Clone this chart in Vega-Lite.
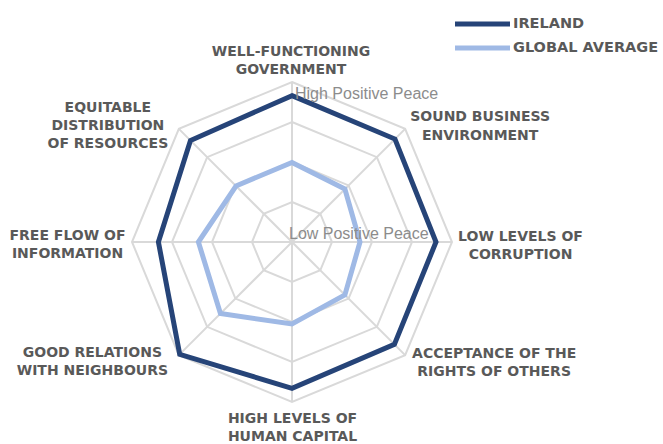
{
  "$schema": "https://vega.github.io/schema/vega-lite/v6.json",
  "width": 663,
  "height": 444,
  "autosize": {"type": "none"},
  "padding": 0,
  "background": "white",
  "config": {"view": {"stroke": null}, "text": {"lineBreak": "\n"}},
  "datasets": {
    "axes": [
      {"axis": "Well-Functioning Government", "i": 0, "label": "WELL-FUNCTIONING\nGOVERNMENT"},
      {"axis": "Sound Business Environment", "i": 1, "label": "SOUND BUSINESS\nENVIRONMENT"},
      {"axis": "Low Levels of Corruption", "i": 2, "label": "LOW LEVELS OF\nCORRUPTION"},
      {"axis": "Acceptance of the Rights of Others", "i": 3, "label": "ACCEPTANCE OF THE\nRIGHTS OF OTHERS"},
      {"axis": "High Levels of Human Capital", "i": 4, "label": "HIGH LEVELS OF\nHUMAN CAPITAL"},
      {"axis": "Good Relations with Neighbours", "i": 5, "label": "GOOD RELATIONS\nWITH NEIGHBOURS"},
      {"axis": "Free Flow of Information", "i": 6, "label": "FREE FLOW OF\nINFORMATION"},
      {"axis": "Equitable Distribution of Resources", "i": 7, "label": "EQUITABLE\nDISTRIBUTION\nOF RESOURCES"}
    ],
    "rings": [
      {"ring": 1, "i": 0}, {"ring": 1, "i": 1}, {"ring": 1, "i": 2}, {"ring": 1, "i": 3}, {"ring": 1, "i": 4}, {"ring": 1, "i": 5}, {"ring": 1, "i": 6}, {"ring": 1, "i": 7},
      {"ring": 2, "i": 0}, {"ring": 2, "i": 1}, {"ring": 2, "i": 2}, {"ring": 2, "i": 3}, {"ring": 2, "i": 4}, {"ring": 2, "i": 5}, {"ring": 2, "i": 6}, {"ring": 2, "i": 7},
      {"ring": 3, "i": 0}, {"ring": 3, "i": 1}, {"ring": 3, "i": 2}, {"ring": 3, "i": 3}, {"ring": 3, "i": 4}, {"ring": 3, "i": 5}, {"ring": 3, "i": 6}, {"ring": 3, "i": 7},
      {"ring": 4, "i": 0}, {"ring": 4, "i": 1}, {"ring": 4, "i": 2}, {"ring": 4, "i": 3}, {"ring": 4, "i": 4}, {"ring": 4, "i": 5}, {"ring": 4, "i": 6}, {"ring": 4, "i": 7}
    ],
    "scores": [
      {"axis": "Well-Functioning Government", "series": "Ireland", "score": 1.34},
      {"axis": "Sound Business Environment", "series": "Ireland", "score": 1.36},
      {"axis": "Low Levels of Corruption", "series": "Ireland", "score": 1.40},
      {"axis": "Acceptance of the Rights of Others", "series": "Ireland", "score": 1.38},
      {"axis": "High Levels of Human Capital", "series": "Ireland", "score": 1.34},
      {"axis": "Good Relations with Neighbours", "series": "Ireland", "score": 1.03},
      {"axis": "Free Flow of Information", "series": "Ireland", "score": 1.66},
      {"axis": "Equitable Distribution of Resources", "series": "Ireland", "score": 1.41},
      {"axis": "Well-Functioning Government", "series": "Global average", "score": 3.01},
      {"axis": "Sound Business Environment", "series": "Global average", "score": 3.13},
      {"axis": "Low Levels of Corruption", "series": "Global average", "score": 3.30},
      {"axis": "Acceptance of the Rights of Others", "series": "Global average", "score": 3.13},
      {"axis": "High Levels of Human Capital", "series": "Global average", "score": 2.95},
      {"axis": "Good Relations with Neighbours", "series": "Global average", "score": 2.47},
      {"axis": "Free Flow of Information", "series": "Global average", "score": 2.66},
      {"axis": "Equitable Distribution of Resources", "series": "Global average", "score": 3.02}
    ],
    "ends": [
      {"label": "High Positive Peace", "score": 1},
      {"label": "Low Positive Peace", "score": 5}
    ]
  },
  "encoding": {
    "x": {"field": "x", "type": "quantitative", "scale": {"domain": [-7.3, 9.275], "nice": false, "zero": false}, "axis": null},
    "y": {"field": "y", "type": "quantitative", "scale": {"domain": [-5.05, 6.05], "nice": false, "zero": false}, "axis": null}
  },
  "layer": [
    {
      "data": {"name": "rings"},
      "transform": [
        {"calculate": "datum.ring * sin(datum.i * PI / 4)", "as": "x"},
        {"calculate": "datum.ring * cos(datum.i * PI / 4)", "as": "y"}
      ],
      "mark": {"type": "line", "interpolate": "linear-closed", "color": "#D9D9D9", "strokeWidth": 2},
      "encoding": {"detail": {"field": "ring", "type": "nominal"}, "order": {"field": "i", "type": "quantitative"}}
    },
    {
      "data": {"name": "axes"},
      "transform": [
        {"calculate": "4 * sin(datum.i * PI / 4)", "as": "x"},
        {"calculate": "4 * cos(datum.i * PI / 4)", "as": "y"}
      ],
      "mark": {"type": "rule", "color": "#D9D9D9", "strokeWidth": 2},
      "encoding": {"x2": {"datum": 0}, "y2": {"datum": 0}}
    },
    {
      "data": {"name": "scores"},
      "transform": [
        {"lookup": "axis", "from": {"data": {"name": "axes"}, "key": "axis", "fields": ["i"]}},
        {"calculate": "(5 - datum.score) * sin(datum.i * PI / 4)", "as": "x"},
        {"calculate": "(5 - datum.score) * cos(datum.i * PI / 4)", "as": "y"}
      ],
      "mark": {"type": "line", "interpolate": "linear-closed", "strokeWidth": 5, "strokeJoin": "miter", "strokeCap": "round"},
      "encoding": {
        "color": {
          "field": "series", "type": "nominal",
          "scale": {"domain": ["Ireland", "Global average"], "range": ["#264478", "#9FB9E5"]},
          "legend": {
            "title": null, "orient": "none", "legendX": 474.5, "legendY": 16, "padding": 0,
            "symbolType": "M-5,0H5", "symbolSize": 121, "symbolStrokeWidth": 5,
            "labelFont": "DejaVu Sans", "labelFontSize": 14.5, "labelFontWeight": "bold", "labelColor": "#595959",
            "labelOffset": 22.5, "rowPadding": 4, "labelExpr": "upper(datum.label)"
          }
        },
        "detail": {"field": "series", "type": "nominal"},
        "order": {"field": "i", "type": "quantitative"}
      }
    },
    {
      "data": {"name": "ends"},
      "transform": [
        {"filter": "datum.score == 1"},
        {"calculate": "0", "as": "x"},
        {"calculate": "5 - datum.score", "as": "y"}
      ],
      "mark": {"type": "text", "align": "left", "baseline": "middle", "dx": 3, "dy": 12, "font": "Liberation Sans", "fontSize": 16, "color": "#8C8C8C"},
      "encoding": {"text": {"field": "label"}}
    },
    {
      "data": {"name": "ends"},
      "transform": [
        {"filter": "datum.score == 5"},
        {"calculate": "0", "as": "x"},
        {"calculate": "5 - datum.score", "as": "y"}
      ],
      "mark": {"type": "text", "align": "left", "baseline": "middle", "dx": -3, "dy": -8, "font": "Liberation Sans", "fontSize": 16, "color": "#8C8C8C"},
      "encoding": {"text": {"field": "label"}}
    },
    {
      "data": {"name": "axes"},
      "transform": [{"filter": "datum.i == 0"}, {"calculate": "4 * sin(datum.i * PI / 4)", "as": "x"}, {"calculate": "4 * cos(datum.i * PI / 4)", "as": "y"}],
      "mark": {"type": "text", "align": "center", "baseline": "middle", "dx": -1, "dy": -30.5, "lineHeight": 18.3, "font": "DejaVu Sans", "fontSize": 14, "fontWeight": "bold", "color": "#595959"},
      "encoding": {"text": {"field": "label"}}
    },
    {
      "data": {"name": "axes"},
      "transform": [{"filter": "datum.i == 1"}, {"calculate": "4 * sin(datum.i * PI / 4)", "as": "x"}, {"calculate": "4 * cos(datum.i * PI / 4)", "as": "y"}],
      "mark": {"type": "text", "align": "center", "baseline": "middle", "dx": 75, "dy": -11.5, "lineHeight": 18.3, "font": "DejaVu Sans", "fontSize": 14, "fontWeight": "bold", "color": "#595959"},
      "encoding": {"text": {"field": "label"}}
    },
    {
      "data": {"name": "axes"},
      "transform": [{"filter": "datum.i == 2"}, {"calculate": "4 * sin(datum.i * PI / 4)", "as": "x"}, {"calculate": "4 * cos(datum.i * PI / 4)", "as": "y"}],
      "mark": {"type": "text", "align": "center", "baseline": "middle", "dx": 68.5, "dy": -5.5, "lineHeight": 18.3, "font": "DejaVu Sans", "fontSize": 14, "fontWeight": "bold", "color": "#595959"},
      "encoding": {"text": {"field": "label"}}
    },
    {
      "data": {"name": "axes"},
      "transform": [{"filter": "datum.i == 3"}, {"calculate": "4 * sin(datum.i * PI / 4)", "as": "x"}, {"calculate": "4 * cos(datum.i * PI / 4)", "as": "y"}],
      "mark": {"type": "text", "align": "center", "baseline": "middle", "dx": 89, "dy": -1.5, "lineHeight": 18.3, "font": "DejaVu Sans", "fontSize": 14, "fontWeight": "bold", "color": "#595959"},
      "encoding": {"text": {"field": "label"}}
    },
    {
      "data": {"name": "axes"},
      "transform": [{"filter": "datum.i == 4"}, {"calculate": "4 * sin(datum.i * PI / 4)", "as": "x"}, {"calculate": "4 * cos(datum.i * PI / 4)", "as": "y"}],
      "mark": {"type": "text", "align": "center", "baseline": "middle", "dx": 0.5, "dy": 17, "lineHeight": 18.3, "font": "DejaVu Sans", "fontSize": 14, "fontWeight": "bold", "color": "#595959"},
      "encoding": {"text": {"field": "label"}}
    },
    {
      "data": {"name": "axes"},
      "transform": [{"filter": "datum.i == 5"}, {"calculate": "4 * sin(datum.i * PI / 4)", "as": "x"}, {"calculate": "4 * cos(datum.i * PI / 4)", "as": "y"}],
      "mark": {"type": "text", "align": "center", "baseline": "middle", "dx": -86.5, "dy": -2.5, "lineHeight": 18.3, "font": "DejaVu Sans", "fontSize": 14, "fontWeight": "bold", "color": "#595959"},
      "encoding": {"text": {"field": "label"}}
    },
    {
      "data": {"name": "axes"},
      "transform": [{"filter": "datum.i == 6"}, {"calculate": "4 * sin(datum.i * PI / 4)", "as": "x"}, {"calculate": "4 * cos(datum.i * PI / 4)", "as": "y"}],
      "mark": {"type": "text", "align": "center", "baseline": "middle", "dx": -64.5, "dy": -6, "lineHeight": 18.3, "font": "DejaVu Sans", "fontSize": 14, "fontWeight": "bold", "color": "#595959"},
      "encoding": {"text": {"field": "label"}}
    },
    {
      "data": {"name": "axes"},
      "transform": [{"filter": "datum.i == 7"}, {"calculate": "4 * sin(datum.i * PI / 4)", "as": "x"}, {"calculate": "4 * cos(datum.i * PI / 4)", "as": "y"}],
      "mark": {"type": "text", "align": "center", "baseline": "middle", "dx": -71, "dy": -21, "lineHeight": 18.3, "font": "DejaVu Sans", "fontSize": 14, "fontWeight": "bold", "color": "#595959"},
      "encoding": {"text": {"field": "label"}}
    }
  ]
}
